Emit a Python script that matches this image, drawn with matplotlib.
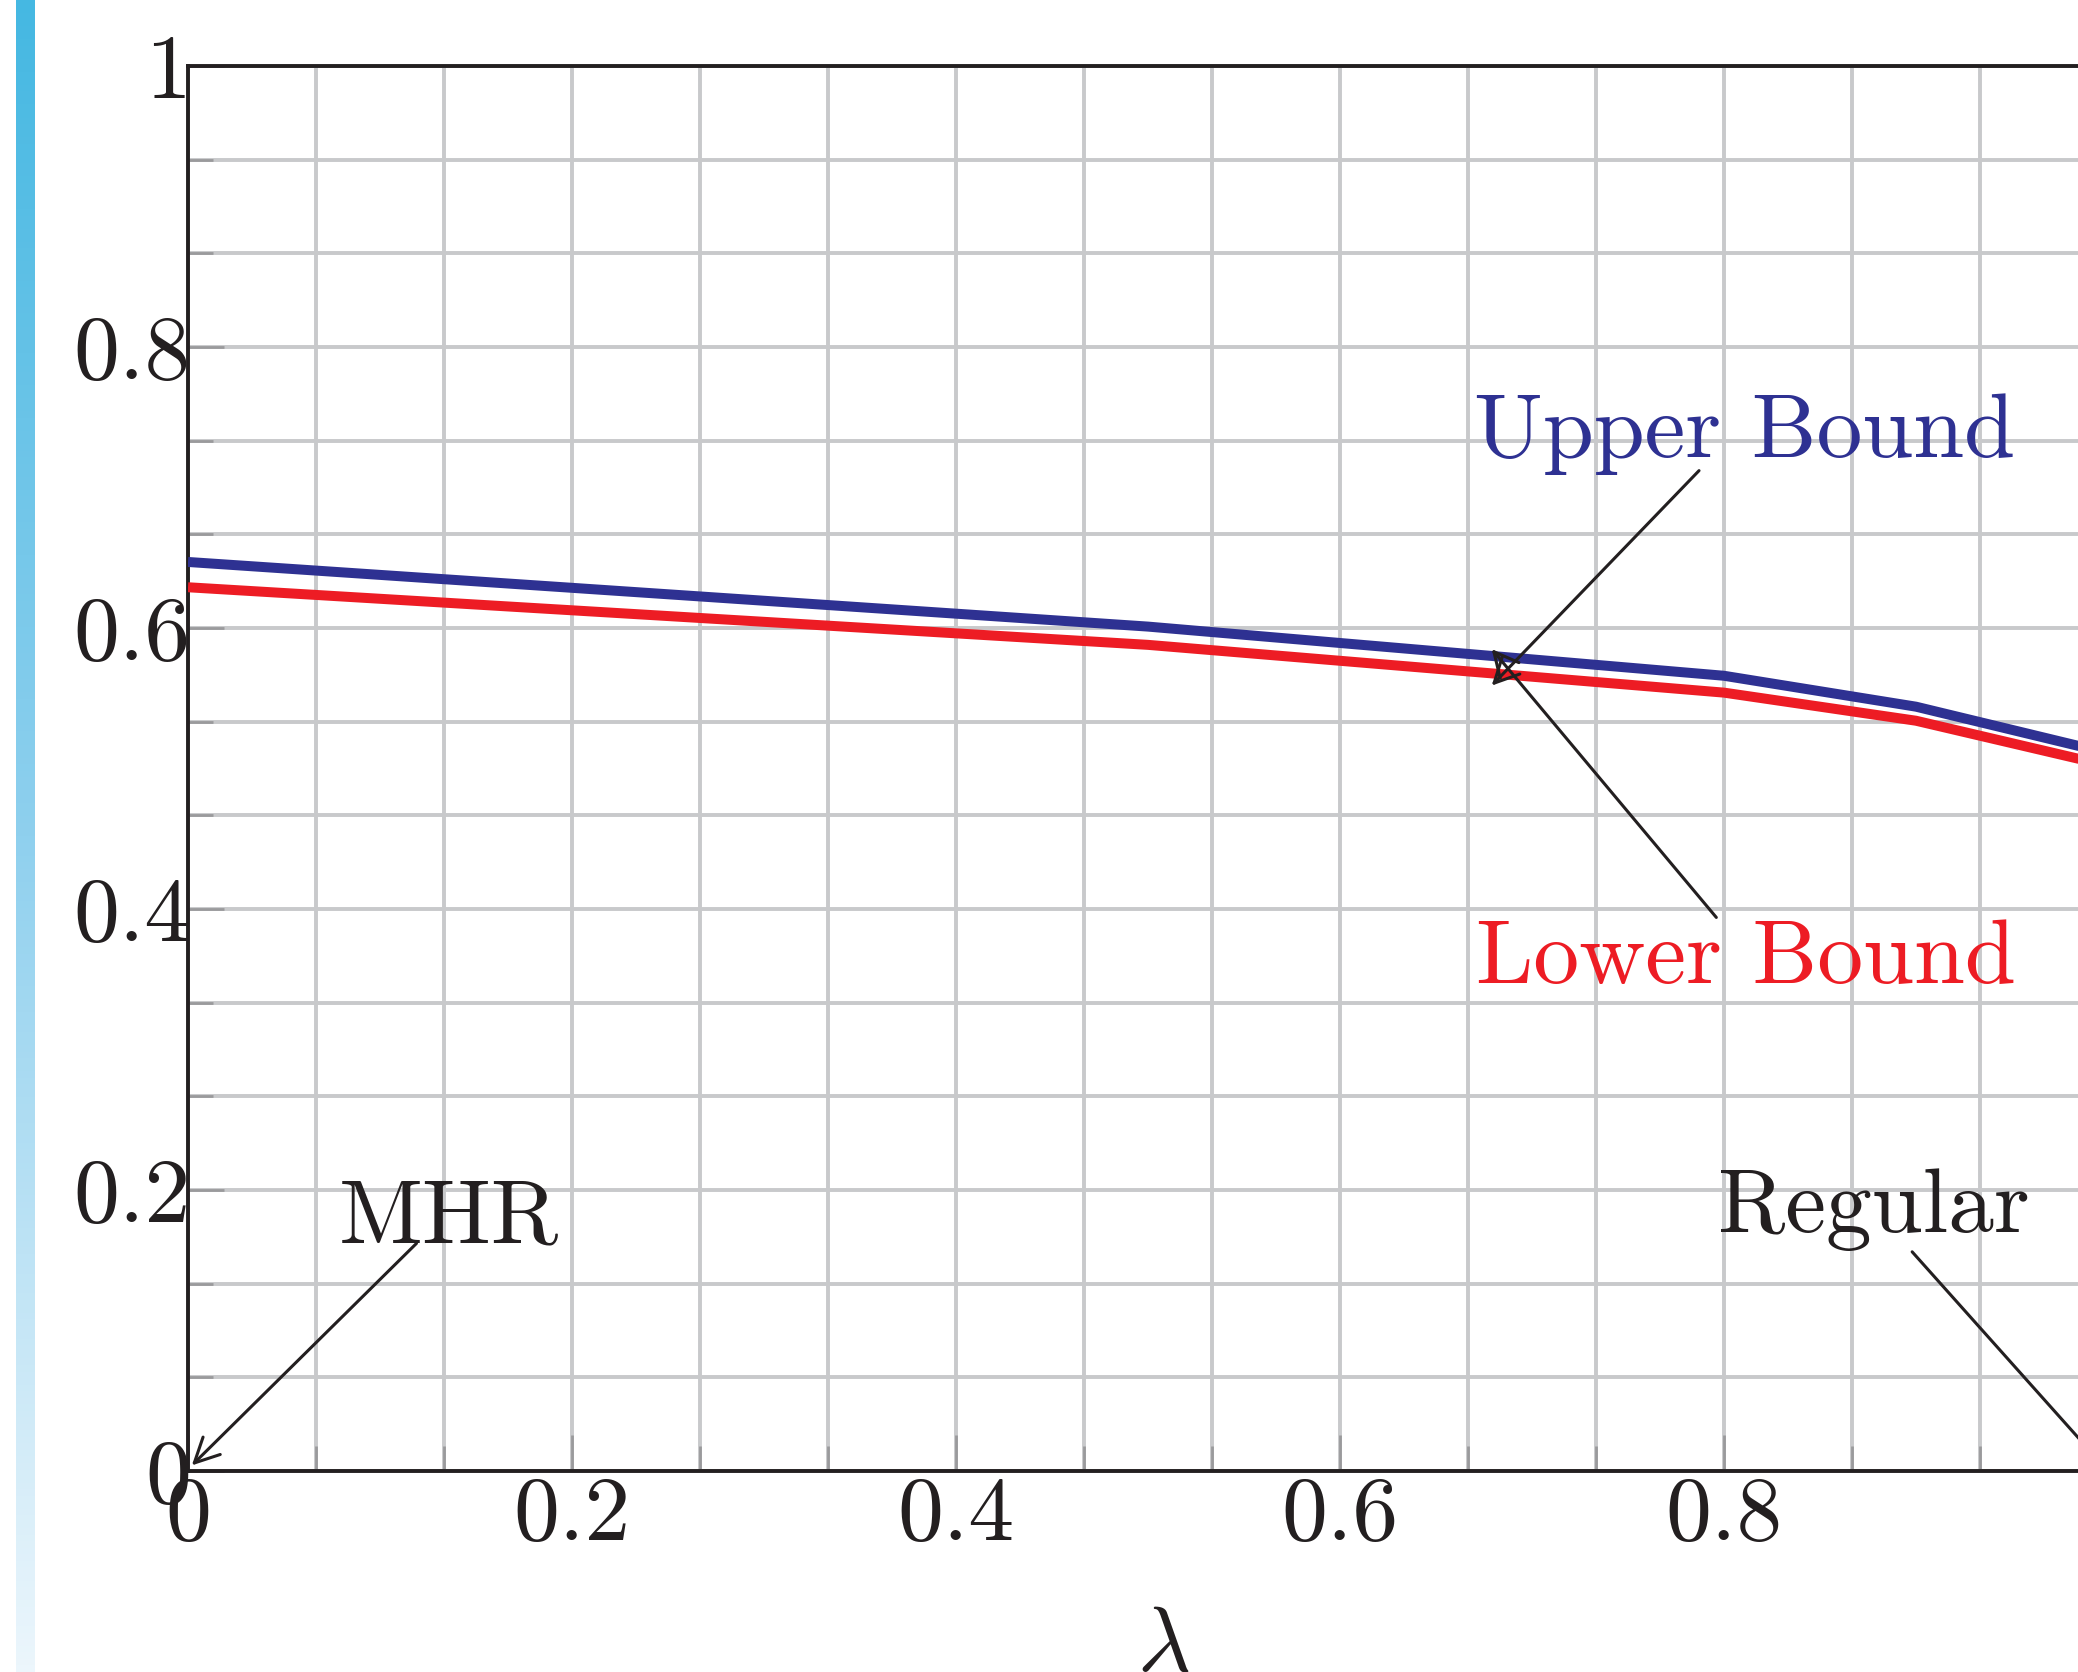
import numpy as np
import matplotlib
matplotlib.use('Agg')
import matplotlib.pyplot as plt
from matplotlib.ticker import FixedLocator, FixedFormatter
from matplotlib.colors import LinearSegmentedColormap

# values
lam = [0.0, 0.5, 0.8, 0.9, 1.0]
upper = [0.647, 0.601, 0.566, 0.544, 0.511]
lower = [0.629, 0.588, 0.554, 0.534, 0.502]

major_ticks = [0, 0.2, 0.4, 0.6, 0.8, 1.0]
tick_labels = ['0', '0.2', '0.4', '0.6', '0.8', '1']
minor_ticks = [k / 15 for k in range(16)]

plt.rcParams['font.family'] = 'cmr10'
plt.rcParams['mathtext.fontset'] = 'cm'
plt.rcParams['axes.formatter.use_mathtext'] = True

BLUE = '#2e3192'
RED = '#ed1c24'
INK = '#231f20'
FS = 33

fig = plt.figure(figsize=(10.39, 8.36), dpi=200)

# the blue fading strip on the left edge
bar = fig.add_axes([16 / 2078, 0, 19 / 2078, 1])
cm = LinearSegmentedColormap.from_list('strip', ['#45b8e2', '#8fd0ee', '#ecf6fc'])
bar.imshow(np.linspace(0, 1, 256).reshape(-1, 1), aspect='auto', cmap=cm)
bar.axis('off')

ax = fig.add_axes([188 / 2078, 201 / 1672, 1920 / 2078, 1405 / 1672])
ax.set_xlim(0, 1)
ax.set_ylim(0, 1)

ax.xaxis.set_major_locator(FixedLocator(major_ticks))
ax.yaxis.set_major_locator(FixedLocator(major_ticks))
ax.xaxis.set_major_formatter(FixedFormatter(tick_labels))
ax.yaxis.set_major_formatter(FixedFormatter(tick_labels))
ax.xaxis.set_minor_locator(FixedLocator(minor_ticks))
ax.yaxis.set_minor_locator(FixedLocator(minor_ticks))

ax.grid(which='both', color='#c8c9cb', lw=1.4, zorder=0)
ax.set_axisbelow(True)
ax.tick_params(which='major', direction='in', length=13, width=1.0, color='#9a9a9c',
               labelsize=FS, labelcolor=INK, pad=2)
ax.tick_params(which='minor', direction='in', length=9, width=1.0, color='#9a9a9c')
ax.tick_params(axis='y', which='major', pad=-1)
for s in ax.spines.values():
    s.set_color(INK)
    s.set_linewidth(1.4)

ax.plot(lam, upper, color=BLUE, lw=3.6, solid_capstyle='butt', zorder=3)
ax.plot(lam, lower, color=RED, lw=3.6, solid_capstyle='butt', zorder=3)

ax.set_xlabel(r'$\lambda$', fontsize=FS, color=INK)
ax.xaxis.set_label_coords(0.508, -0.097)

arrow = dict(arrowstyle='->', color=INK, lw=1.1, shrinkA=0, shrinkB=0,
             mutation_scale=22)

ax.text(0.670, 0.722, 'Upper Bound', color=BLUE, fontsize=FS, va='baseline', ha='left')
ax.annotate('', xy=(0.679, 0.559), xytext=(0.787, 0.712), arrowprops=arrow,
            annotation_clip=False)

ax.text(0.671, 0.347, 'Lower Bound', color=RED, fontsize=FS, va='baseline', ha='left')
ax.annotate('', xy=(0.679, 0.585), xytext=(0.796, 0.394), arrowprops=arrow,
            annotation_clip=False)

ax.text(0.0786, 0.163, 'MHR', color=INK, fontsize=FS, va='baseline', ha='left')
ax.annotate('', xy=(0.002, 0.004), xytext=(0.119, 0.162), arrowprops=arrow,
            annotation_clip=False)

ax.text(0.797, 0.170, 'Regular', color=INK, fontsize=FS, va='baseline', ha='left')
ax.annotate('', xy=(1.0, 0.0), xytext=(0.898, 0.156), arrowprops=arrow,
            annotation_clip=False)

fig.savefig('out.png', dpi=200)
